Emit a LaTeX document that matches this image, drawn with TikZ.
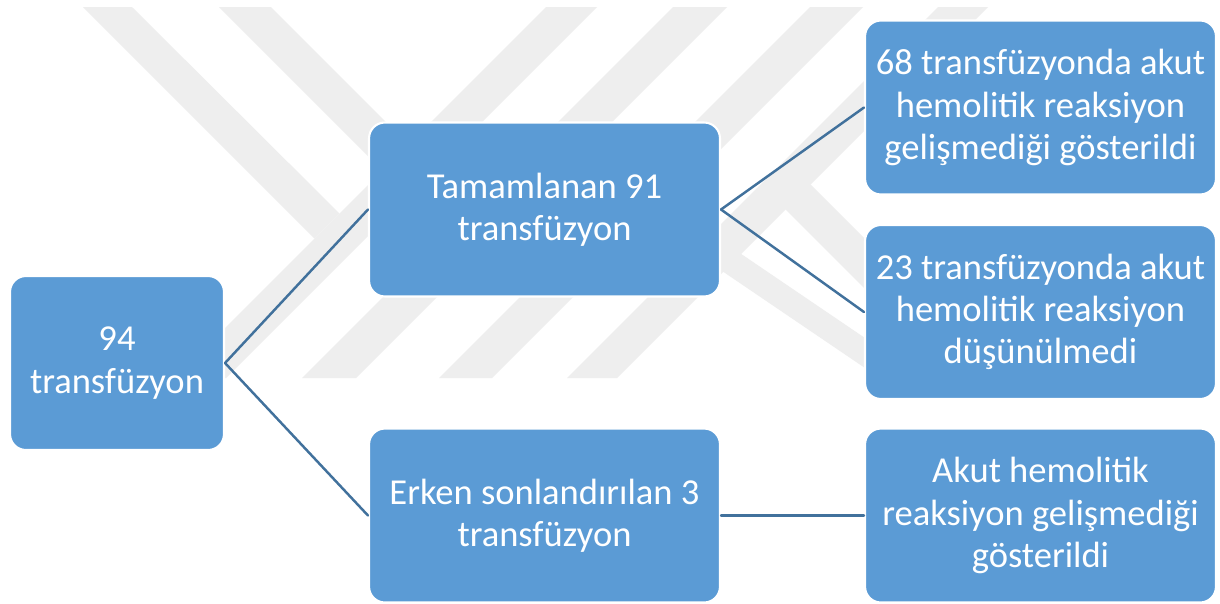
\documentclass[tikz,border=0pt]{standalone}
\usepackage{fontspec}
\setmainfont{Carlito}
\definecolor{boxblue}{HTML}{5B9BD5}
\definecolor{linkblue}{HTML}{41719C}
\definecolor{wmgray}{HTML}{EEEEEE}
\begin{document}
\begin{tikzpicture}[x=0.02cm, y=-0.02cm, line join=round, line cap=round,
	box/.style={draw=white, line width=1.2pt, fill=boxblue, text=white, rounded corners=9pt,
		align=center, inner sep=0pt, minimum height=3.48cm, font=\fontsize{20.8}{24}\selectfont},
	rootbox/.style={box, minimum width=4.28cm},
	wbox/.style={box, minimum width=7.02cm},
	link/.style={draw=linkblue, line width=1.4pt}]
	\path[use as bounding box, fill=white] (0,0) rectangle (1220,603);
	% faint logo in the back
	\foreach \s/\w in {553/51, 680/54, 817/53, 945/50}
		\fill[wmgray] (\s-7,7) -- (\s+\w-7,7) -- (\s+\w-378,378) -- (\s-378,378) -- cycle;
	\fill[wmgray] (83,7) -- (132,7) -- (339.5,213.5) -- (314.5,238.5) -- cycle;
	\fill[wmgray] (219,7) -- (271,7) -- (472,208) -- (446,234) -- cycle;
	\fill[wmgray] (760.5,184.5) -- (810.5,184.5) -- (880,254) -- (880,304) -- cycle;
	\fill[wmgray] (700,226) -- (865,338) -- (865,368) -- (700,256) -- cycle;
	% boxes
	\node[rootbox] (n94) at (117,363) {94\\transfüzyon};
	\node[wbox] (n91) at (544.5,209.5) {Tamamlanan 91\\transfüzyon};
	\node[wbox] (n3) at (544.5,515.5) {Erken sonlandırılan 3\\transfüzyon};
	\node[wbox] (r68) at (1040.5,107.5) {68 transfüzyonda akut\\hemolitik reaksiyon\\gelişmediği gösterildi};
	\node[wbox] (r23) at (1040.5,312) {23 transfüzyonda akut\\hemolitik reaksiyon\\düşünülmedi};
	\node[wbox] (r3) at (1040.5,515.5) {Akut hemolitik\\reaksiyon gelişmediği\\gösterildi};
	\foreach \a/\b in {n94/n91, n94/n3, n91/r68, n91/r23, n3/r3}
		\draw[link] (\a.east) -- (\b.west);
\end{tikzpicture}
\end{document}
